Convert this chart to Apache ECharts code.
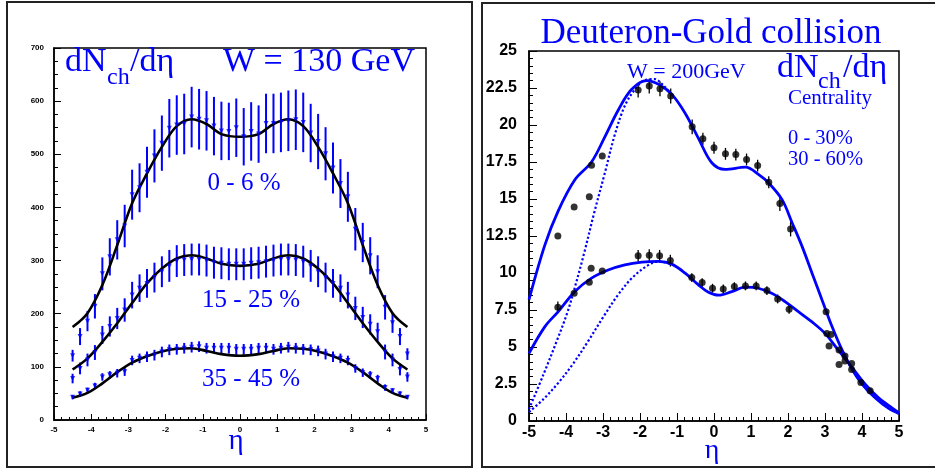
<!DOCTYPE html>
<html>
<head>
<meta charset="utf-8">
<script src="https://cdn.jsdelivr.net/npm/echarts@6/dist/echarts.min.js"></script>
<style>
  html, body { margin: 0; padding: 0; background: #fff; }
  #chart { width: 935px; height: 474px; }
</style>
</head>
<body>
<div id="chart"></div>
<script>
// ---- left panel: Au+Au, W = 130 GeV ----
const etaBins = [-4.5, -4.3, -4.1, -3.9, -3.7, -3.5, -3.3, -3.1, -2.9, -2.7, -2.5, -2.3, -2.1, -1.9, -1.7, -1.5,
  -1.3, -1.1, -0.9, -0.7, -0.5, -0.3, -0.1, 0.1, 0.3, 0.5, 0.7, 0.9, 1.1, 1.3, 1.5, 1.7, 1.9, 2.1, 2.3, 2.5,
  2.7, 2.9, 3.1, 3.3, 3.5, 3.7, 3.9, 4.1, 4.3, 4.5];

const c0_6 = [121, 157, 186, 214, 275, 307, 339, 365, 424, 437, 466, 497, 521, 549, 555, 557,
  570, 566, 563, 553, 544, 543, 550, 533, 543, 538, 558, 558, 560, 563, 565, 560, 540, 524, 501, 474,
  445, 420, 359, 334, 309, 279, 212, 183, 157, 124];
const err0_6 = [11, 16, 19, 23, 31, 35, 37, 40, 47, 46, 48, 50, 52, 55, 56, 57,
  57, 57, 56, 55, 55, 54, 55, 54, 55, 54, 56, 56, 56, 57, 57, 56, 55, 52, 50, 48,
  46, 47, 40, 37, 35, 31, 23, 19, 16, 11];

const c15_25 = [78, 97, 113, 127, 160, 176, 191, 207, 235, 248, 257, 268, 279, 290, 299, 301,
  302, 302, 300, 296, 295, 293, 293, 293, 295, 296, 298, 300, 302, 302, 301, 298, 290, 279, 268, 257,
  248, 235, 210, 193, 180, 166, 128, 113, 95, 81];
const err15_25 = [9, 11, 12, 14, 17, 19, 20, 22, 25, 26, 27, 28, 29, 30, 30, 30,
  30, 30, 30, 30, 30, 30, 30, 30, 30, 30, 30, 30, 30, 30, 30, 30, 30, 29, 28, 27,
  26, 25, 22, 20, 19, 17, 14, 12, 11, 9];

const c35_45 = [43, 49, 56, 64, 81, 85, 88, 91, 112, 116, 119, 122, 128, 132, 133, 135,
  137, 138, 135, 135, 135, 135, 133, 133, 133, 135, 135, 133, 135, 137, 135, 133, 132, 130, 124, 119,
  116, 112, 97, 89, 85, 78, 61, 55, 49, 43];
const err35_45 = [4, 5, 5, 6, 7, 7, 8, 8, 9, 9, 10, 10, 10, 10, 10, 10,
  10, 10, 10, 10, 10, 10, 10, 10, 10, 10, 10, 10, 10, 10, 10, 10, 10, 10, 10, 10,
  9, 9, 8, 8, 7, 7, 6, 5, 5, 4];

const fitEta = [-4.5, -4.1, -3.7, -3.3, -2.9, -2.5, -2.1, -1.7, -1.3, -0.9, -0.5, 0,
  0.5, 0.9, 1.3, 1.7, 2.1, 2.5, 2.9, 3.3, 3.7, 4.1, 4.5];
const fit0_6 = [175, 201, 254, 329, 408, 464, 514, 553, 566, 557, 538, 533,
  538, 557, 566, 553, 514, 464, 408, 329, 254, 201, 175];
const fit15_25 = [95, 116, 147, 182, 220, 257, 285, 304, 310, 304, 294, 290,
  294, 304, 310, 304, 285, 257, 220, 182, 147, 116, 95];
const fit35_45 = [42, 51, 69, 90, 108, 120, 129, 134, 135, 130, 124, 121,
  124, 130, 135, 134, 129, 120, 108, 90, 69, 51, 42];

// ---- right panel: d+Au, W = 200 GeV ----
const dAuEtaCentral = [-4.22, -3.78, -3.37, -3.31, -3.02, -2.05, -1.75, -1.46, -1.17, -0.59, -0.3, 0.0, 0.31,
  0.59, 0.88, 1.18, 1.48, 1.78, 2.07, 3.03, 3.16, 3.38, 3.54, 3.72, 3.97, 4.22];
const dAuCentral = [12.5, 14.46, 15.16, 17.28, 17.9, 22.36, 22.63, 22.45, 21.96, 19.88, 19.07, 18.46, 18.05,
  18.0, 17.67, 17.26, 16.13, 14.69, 12.97, 7.39, 5.85, 4.79, 4.39, 3.89, 2.6, 2.04];
const errCentral = [0, 0, 0, 0, 0, 0.5, 0.5, 0.5, 0.5, 0.5, 0.4, 0.4, 0.4,
  0.4, 0.4, 0.4, 0.4, 0.5, 0.5, 0, 0, 0, 0, 0, 0, 0];

const dAuEtaPeriph = [-4.22, -3.78, -3.37, -3.32, -3.02, -2.05, -1.75, -1.47, -1.18, -0.6, -0.32, -0.04,
  0.25, 0.55, 0.85, 1.14, 1.43, 1.72, 2.03, 3.05, 3.11, 3.38, 3.54, 3.72];
const dAuPeriph = [7.68, 8.63, 9.37, 10.32, 10.14, 11.16, 11.2, 11.16, 10.84, 9.69, 9.35, 8.97,
  8.92, 9.08, 9.13, 9.13, 8.81, 8.25, 7.55, 5.92, 5.06, 3.82, 4.05, 3.48];
const errPeriph = [0.4, 0, 0, 0, 0, 0.4, 0.4, 0.4, 0.4, 0.3, 0.3, 0.3,
  0.3, 0.3, 0.3, 0.3, 0.3, 0.3, 0.3, 0, 0, 0, 0, 0];

const fitCentralEta = [-5, -4.57, -4.21, -3.76, -3.31, -2.95, -2.59, -2.23, -1.82, -1.5, -1.14, -0.78, -0.42,
  -0.06, 0.3, 0.85, 1.21, 1.48, 1.84, 2.11, 2.38, 2.65, 2.92, 3.19, 3.46, 3.73, 4.0, 4.36, 4.72, 5.0];
const fitCentral = [8.2, 11.9, 14.2, 16.3, 17.5, 19.2, 21.0, 22.4, 23.0, 22.75, 22.07, 20.8, 19.1,
  17.45, 17.0, 17.15, 16.65, 16.08, 14.96, 13.4, 11.8, 9.99, 8.18, 6.38, 4.8, 3.5, 2.5, 1.55, 0.85, 0.5];

const fitPeriphEta = [-5, -4.57, -4.21, -3.76, -3.31, -2.86, -2.41, -1.95, -1.5, -1.14, -0.78, -0.42, -0.15,
  0.12, 0.48, 0.84, 1.2, 1.56, 1.92, 2.28, 2.64, 3.0, 3.36, 3.72, 4.08, 4.44, 4.8, 5.0];
const fitPeriph = [4.57, 6.38, 7.39, 8.75, 9.65, 10.2, 10.55, 10.73, 10.78, 10.6, 9.99, 9.2, 8.7,
  8.5, 8.74, 9.04, 8.97, 8.63, 8.07, 7.39, 6.71, 5.92, 4.79, 3.66, 2.5, 1.58, 0.9, 0.55];

const dotCentralEta = [-5, -4.6, -4.24, -3.97, -3.78, -3.51, -3.24, -2.95, -2.68, -2.41, -2.14, -1.86, -1.6, -1.38, -1.14];
const dotCentral = [0.8, 3.2, 5.47, 7.28, 8.86, 11.34, 14.05, 16.76, 19.36, 21.3, 22.4, 23.04, 23.1, 22.7, 22.07];

const dotPeriphEta = [-5, -4.6, -4.2, -3.8, -3.4, -3.0, -2.6, -2.2, -1.8, -1.5, -1.14];
const dotPeriph = [0.6, 1.5, 2.6, 3.9, 5.4, 7.0, 8.5, 9.7, 10.5, 10.78, 10.6];

const BLUE = '#0000ff';
const SERIF = '"Liberation Serif", "DejaVu Serif", serif';
const SANS = '"Liberation Sans", Arial, sans-serif';

const pairs = (xs, ys) => xs.map((x, i) => [x, ys[i]]);

function errorBars(xs, ys, es, gi, color, width) {
    return {
        type: 'custom',
        xAxisIndex: gi,
        yAxisIndex: gi,
        silent: true,
        z: 2,
        data: xs.map((x, i) => [x, ys[i], es[i]]),
        renderItem: (params, api) => {
            const e = api.value(2);
            if (!e) return null;
            const lo = api.coord([api.value(0), api.value(1) - e]);
            const hi = api.coord([api.value(0), api.value(1) + e]);
            return {
                type: 'line',
                shape: { x1: lo[0], y1: lo[1], x2: hi[0], y2: hi[1] },
                style: { stroke: color, lineWidth: width }
            };
        }
    };
}

function curve(xs, ys, gi, color, width, type) {
    return {
        type: 'line',
        xAxisIndex: gi,
        yAxisIndex: gi,
        data: pairs(xs, ys),
        smooth: 0.35,
        showSymbol: false,
        symbol: 'none',
        silent: true,
        z: 3,
        lineStyle: { color, width, type: type || 'solid' }
    };
}

function markers(xs, ys, gi, opts) {
    return Object.assign({
        type: 'scatter',
        xAxisIndex: gi,
        yAxisIndex: gi,
        data: pairs(xs, ys),
        silent: true,
        z: 4
    }, opts);
}

function axisCommon(labelFont, labelMargin, tickLen, minorSplit) {
    return {
        type: 'value',
        axisLine: { show: true, onZero: false, lineStyle: { color: '#000', width: 1.5 } },
        axisTick: { show: true, inside: true, length: tickLen, lineStyle: { color: '#000', width: 1 } },
        minorTick: { show: true, splitNumber: minorSplit, length: Math.round(tickLen / 2), lineStyle: { color: '#000', width: 1 } },
        splitLine: { show: false },
        minorSplitLine: { show: false },
        axisLabel: { color: '#000', fontFamily: SANS, fontWeight: 'bold', fontSize: labelFont, margin: labelMargin }
    };
}

function text(str, x, y, size, align) {
    return {
        type: 'text',
        x, y,
        silent: true,
        style: {
            text: str,
            fill: BLUE,
            font: `${size}px ${SERIF}`,
            align: align || 'left',
            textAlign: align || 'left',
            verticalAlign: 'middle',
            textVerticalAlign: 'middle'
        }
    };
}

const chart = echarts.init(document.getElementById('chart'), null, { renderer: 'canvas' });

chart.setOption({
    animation: false,
    backgroundColor: '#fff',
    grid: [
        { left: 54, top: 48, width: 372, height: 372, show: true, borderColor: '#000', borderWidth: 1.5, containLabel: false, outerBoundsMode: 'none' },
        { left: 529, top: 51, width: 370, height: 370, show: true, borderColor: '#000', borderWidth: 1.5, containLabel: false, outerBoundsMode: 'none' }
    ],
    xAxis: [
        Object.assign(axisCommon(8, 6, 6, 5), { gridIndex: 0, min: -5, max: 5, interval: 1 }),
        Object.assign(axisCommon(16, 4, 8, 5), { gridIndex: 1, min: -5, max: 5, interval: 1 })
    ],
    yAxis: [
        Object.assign(axisCommon(8, 10, 7, 4), { gridIndex: 0, min: 0, max: 700, interval: 100 }),
        Object.assign(axisCommon(16, 12, 8, 5), { gridIndex: 1, min: 0, max: 25, interval: 2.5 })
    ],
    graphic: [
        { type: 'rect', shape: { x: 7, y: 2, width: 465, height: 465 }, style: { fill: 'none', stroke: '#222', lineWidth: 2 }, silent: true },
        { type: 'rect', shape: { x: 482, y: 3, width: 470, height: 464 }, style: { fill: 'none', stroke: '#222', lineWidth: 2 }, silent: true },

        text('dN', 65, 62.5, 34),
        text('ch', 107, 78, 24),
        text('/d\u03b7', 130, 62.5, 34),
        text('W = 130 GeV', 223, 62.5, 34),
        text('0 - 6 %', 244, 183.5, 25, 'center'),
        text('15 - 25 %', 251, 300.5, 25, 'center'),
        text('35 - 45 %', 251, 379.5, 25, 'center'),
        text('\u03b7', 236, 441, 29, 'center'),

        text('Deuteron-Gold collision', 711, 33.5, 35, 'center'),
        text('W = 200GeV', 627, 72.5, 22),
        text('dN', 777, 68.5, 34),
        text('ch', 818, 82, 24),
        text('/d\u03b7', 843, 68.5, 34),
        text('Centrality', 788, 98, 21),
        text('0 - 30%', 788, 139, 20.5),
        text('30 - 60%', 788, 160, 20.5),
        text('\u03b7', 712, 450.5, 28, 'center')
    ],
    series: [
        errorBars(etaBins, c0_6, err0_6, 0, BLUE, 2),
        errorBars(etaBins, c15_25, err15_25, 0, BLUE, 2),
        errorBars(etaBins, c35_45, err35_45, 0, BLUE, 2),
        curve(fitEta, fit0_6, 0, '#000', 2.6),
        curve(fitEta, fit15_25, 0, '#000', 2.6),
        curve(fitEta, fit35_45, 0, '#000', 2.6),
        markers(etaBins, c0_6, 0, { symbol: 'triangle', symbolRotate: 180, symbolSize: 5, itemStyle: { color: BLUE } }),
        markers(etaBins, c15_25, 0, { symbol: 'triangle', symbolRotate: 180, symbolSize: 5, itemStyle: { color: BLUE } }),
        markers(etaBins, c35_45, 0, { symbol: 'triangle', symbolRotate: 180, symbolSize: 5, itemStyle: { color: BLUE } }),

        curve(fitCentralEta, fitCentral, 1, BLUE, 2.8),
        curve(fitPeriphEta, fitPeriph, 1, BLUE, 2.8),
        curve(dotCentralEta, dotCentral, 1, BLUE, 2.2, 'dotted'),
        curve(dotPeriphEta, dotPeriph, 1, BLUE, 2.2, 'dotted'),
        errorBars(dAuEtaCentral, dAuCentral, errCentral, 1, '#000', 1.3),
        errorBars(dAuEtaPeriph, dAuPeriph, errPeriph, 1, '#000', 1.3),
        markers(dAuEtaCentral, dAuCentral, 1, { symbol: 'circle', symbolSize: 7, itemStyle: { color: '#000' } }),
        markers(dAuEtaPeriph, dAuPeriph, 1, { symbol: 'circle', symbolSize: 7, itemStyle: { color: '#000' } })
    ]
});
</script>
</body>
</html>
